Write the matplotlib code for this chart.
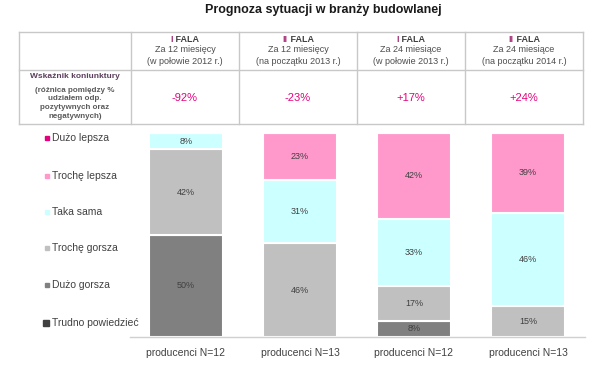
import matplotlib
matplotlib.use("Agg")
import matplotlib.pyplot as plt
import numpy as np

plt.rcParams['font.family'] = ['Liberation Sans', 'DejaVu Sans']

title = "Prognoza sytuacji w branży budowlanej"
categories = ["producenci N=12", "producenci N=13", "producenci N=12", "producenci N=13"]
wave_labels = ["I", "II", "I", "II"]
period_labels = ["Za 12 miesięcy", "Za 12 miesięcy", "Za 24 miesiące", "Za 24 miesiące"]
time_labels = ["(w połowie 2012 r.)", "(na początku 2013 r.)", "(w połowie 2013 r.)", "(na początku 2014 r.)"]
index_values = ["-92%", "-23%", "+17%", "+24%"]
row_label_title = "Wskaźnik koniunktury"
row_label_lines = ["(różnica pomiędzy %", "udziałem odp.", "pozytywnych oraz", "negatywnych)"]

series_names = ["Trudno powiedzieć", "Dużo gorsza", "Trochę gorsza", "Taka sama", "Trochę lepsza", "Dużo lepsza"]
trudno = [0, 0, 0, 0]
duzo_gorsza = [50, 0, 8, 0]
troche_gorsza = [42, 46, 17, 15]
taka_sama = [8, 31, 33, 46]
troche_lepsza = [0, 23, 42, 39]
duzo_lepsza = [0, 0, 0, 0]
series_values = [trudno, duzo_gorsza, troche_gorsza, taka_sama, troche_lepsza, duzo_lepsza]
colors = ["#404040", "#808080", "#c0c0c0", "#ccffff", "#ff99cc", "#e6007e"]

W, H = 600, 367
fig = plt.figure(figsize=(W / 100, H / 100), dpi=100)

# overlay axes in pixel coords
ov = fig.add_axes([0, 0, 1, 1], zorder=0)
ov.set_xlim(0, W)
ov.set_ylim(H, 0)
ov.axis('off')
ov.patch.set_alpha(0)

ov.text(323, 10, title, ha='center', va='center', fontsize=9, fontweight='bold', color='#1a1a1a')

# table
lc = '#c8c8c8'
xs = [19, 131, 239, 357, 465, 583]
top, mid, bot = 32, 70, 124
for y in (top, mid, bot):
    ov.plot([xs[0], xs[-1]], [y, y], color=lc, lw=1)
for x in xs:
    ov.plot([x, x], [top, bot], color=lc, lw=1)

txtc = '#4d4d4d'
magenta = '#e6007e'
fig.canvas.draw()
renderer = fig.canvas.get_renderer()
inv = ov.transData.inverted()
for i in range(4):
    cx = (xs[i + 1] + xs[i + 2]) / 2
    full = ov.text(cx, 39, wave_labels[i] + " FALA", ha='center', va='center', fontsize=6.5, fontweight='bold')
    bb = full.get_window_extent(renderer=renderer)
    full.remove()
    x0 = inv.transform((bb.x0, bb.y0))[0]
    t1 = ov.text(x0, 39, wave_labels[i], ha='left', va='center', fontsize=6.5, fontweight='bold', color='#a8307a')
    b1 = t1.get_window_extent(renderer=renderer)
    x1 = inv.transform((b1.x1, b1.y0))[0]
    ov.text(x1, 39, " FALA", ha='left', va='center', fontsize=6.5, fontweight='bold', color='#404040')
    ov.text(cx, 50, period_labels[i], ha='center', va='center', fontsize=6.5, color=txtc)
    ov.text(cx, 61, time_labels[i], ha='center', va='center', fontsize=6.5, color=txtc)
    ov.text(cx, 98, index_values[i], ha='center', va='center', fontsize=8, color=magenta)

lx = (xs[0] + xs[1]) / 2
ov.text(lx, 77, row_label_title, ha='center', va='center', fontsize=6, fontweight='bold', color='#5b3f5b')
for y, s in zip([90.5, 99, 107.5, 116.5], row_label_lines):
    ov.text(lx, y, s, ha='center', va='center', fontsize=5.8, fontweight='bold', color='#5a5a5a')

# legend
leg_y = [323, 285, 248, 212, 176, 138]
for name, col, y in zip(series_names, colors, leg_y):
    ms = 5 if name == "Trudno powiedzieć" else 3.5
    mx = 46 if name == "Trudno powiedzieć" else 47
    ov.plot([mx], [y], marker='s', ms=ms, color=col, mec=col, lw=0)
    ov.text(52, y, name, ha='left', va='center', fontsize=7.5, color='#404040')

# bar axes
left_px, right_px, top_px, bot_px = 130, 585, 133, 337
ax = fig.add_axes([left_px / W, 1 - bot_px / H, (right_px - left_px) / W, (bot_px - top_px) / H], zorder=1)
ax.patch.set_alpha(0)
x = np.arange(len(categories))
bottom = np.zeros(len(categories))
for name, vals, col in zip(series_names, series_values, colors):
    v = np.array(vals, dtype=float)
    ax.bar(x, v, bottom=bottom, width=0.65, color=col, edgecolor='white', linewidth=1.5)
    for xi, vi, bi in zip(x, v, bottom):
        if vi > 0:
            ax.text(xi, bi + vi / 2, f"{int(vi)}%", ha='center', va='center', fontsize=6.5, color='#404040')
    bottom += v

ax.set_xlim((left_px - 186) / 114, (right_px - 186) / 114)
ax.set_ylim(0, 100)
for s in ('top', 'right', 'left'):
    ax.spines[s].set_visible(False)
ax.spines['bottom'].set_color('#d0d0d0')
ax.spines['bottom'].set_linewidth(1)
ax.set_yticks([])
ax.set_xticks(x)
ax.set_xticklabels(categories, fontsize=7.5, color='#404040')
ax.tick_params(axis='x', length=0, pad=8)

fig.savefig("out.png", dpi=100)
